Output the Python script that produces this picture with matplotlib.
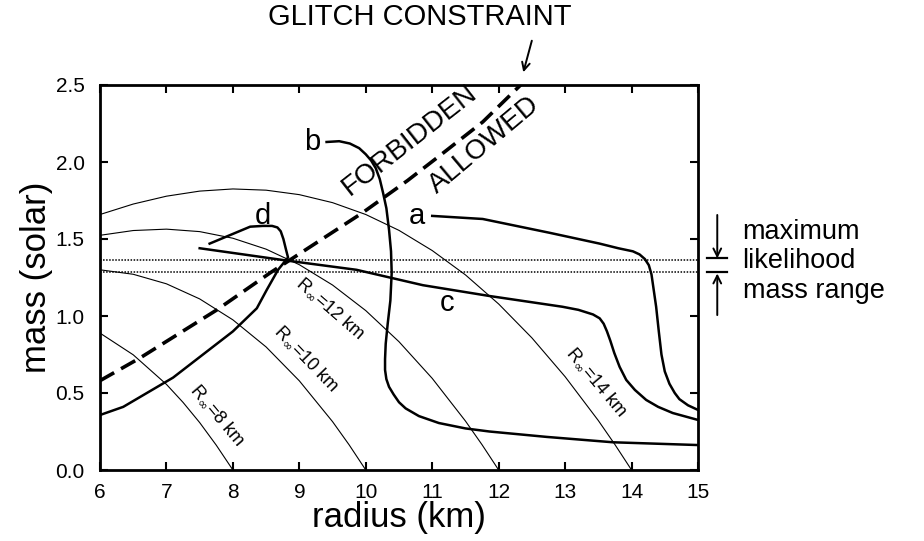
import numpy as np
import matplotlib
matplotlib.use("Agg")
import matplotlib.pyplot as plt

plt.rcParams['font.family'] = ['Liberation Sans', 'DejaVu Sans']

# thin curves of constant R_inf (radius, mass)
rinf8_r = [6.0, 6.5, 7.0, 7.25, 7.5, 7.75, 8.0]
rinf8_m = [0.889, 0.748, 0.556, 0.439, 0.308, 0.161, 0.0]
rinf10_r = [6.0, 6.5, 7.0, 7.5, 8.0, 8.5, 9.0, 9.5, 9.75, 10.0]
rinf10_m = [1.300, 1.271, 1.209, 1.111, 0.975, 0.799, 0.579, 0.314, 0.163, 0.0]
rinf12_r = [6.0, 6.5, 7.0, 7.5, 8.0, 8.5, 9.0, 9.5, 10.0, 10.5, 11.0, 11.5, 11.75, 12.0]
rinf12_m = [1.524, 1.555, 1.564, 1.548, 1.505, 1.434, 1.333, 1.201, 1.035, 0.833,
            0.595, 0.318, 0.164, 0.0]
rinf14_r = [6.0, 6.5, 7.0, 7.5, 8.0, 8.5, 9.0, 9.5, 10.0, 10.5, 11.0, 11.5, 12.0,
            12.5, 13.0, 13.5, 13.75, 14.0]
rinf14_m = [1.659, 1.727, 1.778, 1.811, 1.825, 1.817, 1.788, 1.736, 1.659, 1.556,
            1.425, 1.267, 1.078, 0.858, 0.606, 0.321, 0.165, 0.0]

# equation of state curves
a_r = [11.0, 11.76, 12.77, 13.52, 13.8, 14.02, 14.12, 14.2, 14.26, 14.3, 14.33, 14.37,
       14.41, 14.45, 14.5, 14.57, 14.65, 14.72, 14.85, 15.0]
a_m = [1.65, 1.63, 1.54, 1.47, 1.44, 1.42, 1.40, 1.37, 1.33, 1.27, 1.18, 1.06,
       0.90, 0.75, 0.64, 0.56, 0.50, 0.46, 0.42, 0.39]
b_r = [9.41, 9.6, 9.76, 9.9, 10.0, 10.08, 10.15, 10.21, 10.26, 10.31, 10.35, 10.38,
       10.39, 10.37, 10.33, 10.30, 10.29, 10.29, 10.31, 10.35, 10.42, 10.5, 10.6, 10.8,
       11.1, 11.5, 11.86, 12.72, 13.72, 15.0]
b_m = [2.13, 2.135, 2.12, 2.09, 2.05, 2.01, 1.96, 1.89, 1.80, 1.70, 1.56, 1.42,
       1.28, 1.10, 0.95, 0.82, 0.72, 0.65, 0.59, 0.54, 0.49, 0.44, 0.40, 0.35,
       0.305, 0.27, 0.25, 0.215, 0.18, 0.162]
c_r = [7.5, 8.81, 9.86, 10.86, 11.86, 12.96, 13.2, 13.42, 13.52, 13.58, 13.63, 13.68,
       13.74, 13.82, 13.92, 14.05, 14.22, 14.4, 14.62, 15.0]
c_m = [1.44, 1.36, 1.30, 1.20, 1.13, 1.06, 1.04, 1.01, 0.985, 0.95, 0.90, 0.84,
       0.76, 0.67, 0.585, 0.52, 0.455, 0.41, 0.37, 0.325]
d_r = [6.0, 6.35, 7.1, 8.0, 8.36, 8.51, 8.68, 8.83, 8.80, 8.76, 8.72, 8.67, 8.59,
       8.45, 8.26, 7.65]
d_m = [0.357, 0.41, 0.60, 0.90, 1.05, 1.17, 1.30, 1.38, 1.43, 1.50, 1.55, 1.575,
       1.585, 1.585, 1.58, 1.47]

# glitch constraint
glitch_r = [6.0, 6.6, 7.76, 8.56, 8.86, 9.95, 10.63, 11.11, 11.76, 12.33]
glitch_m = [0.58, 0.727, 1.04, 1.28, 1.364, 1.67, 1.88, 2.04, 2.26, 2.5]

# maximum likelihood mass range
mass_lo, mass_hi = 1.286, 1.364

fig = plt.figure(figsize=(9.24, 5.41), dpi=100)
ax = fig.add_axes([100 / 924, 71 / 541, 598 / 924, 385 / 541])

thin = dict(color='black', lw=0.8)
thick = dict(color='black', lw=1.8, solid_joinstyle='round')
for r, m in [(rinf8_r, rinf8_m), (rinf10_r, rinf10_m), (rinf12_r, rinf12_m), (rinf14_r, rinf14_m)]:
    ax.plot(r, m, **thin)
for r, m in [(a_r, a_m), (b_r, b_m), (c_r, c_m), (d_r, d_m)]:
    ax.plot(r, m, **thick)
ax.plot(glitch_r, glitch_m, color='black', lw=2.6, dashes=(4.5, 2.2))
ax.axhline(mass_lo, color='black', lw=1.1, ls=(0, (1, 1)))
ax.axhline(mass_hi, color='black', lw=1.1, ls=(0, (1, 1)))

# curve labels
for txt, x, y in [('a', 10.77, 1.60), ('b', 9.19, 2.08), ('c', 11.22, 1.03), ('d', 8.45, 1.60)]:
    ax.text(x, y, txt, fontsize=21, ha='center', va='baseline')

ax.text(10.66, 2.14, 'FORBIDDEN', fontsize=20, rotation=38, ha='center', va='center',
        rotation_mode='anchor', clip_on=False)
ax.text(11.79, 2.11, 'ALLOWED', fontsize=20, rotation=40, ha='center', va='center',
        rotation_mode='anchor')

for txt, x, y, rot in [('8', 7.77, 0.357, -50), ('10', 9.11, 0.727, -46),
                       ('12', 9.47, 1.05, -41), ('14', 13.47, 0.57, -50)]:
    ax.text(x, y, r'R$_\infty$=' + txt + ' km', fontsize=13, rotation=rot,
            ha='center', va='center', rotation_mode='anchor')

# glitch constraint annotation
ax.text(10.81, 2.89, 'GLITCH CONSTRAINT', fontsize=21, ha='center', va='baseline', clip_on=False)
ax.annotate('', xy=(12.36, 2.565), xytext=(12.51, 2.805), xycoords='data',
            arrowprops=dict(arrowstyle='->', color='black', lw=1.4,
                            mutation_scale=14), annotation_clip=False)

# mass range marker right of the plot
ax.annotate('', xy=(15.29, mass_hi + 0.01), xytext=(15.29, 1.656),
            arrowprops=dict(arrowstyle='->', color='black', lw=1.4, mutation_scale=14,
                            shrinkA=0, shrinkB=0), annotation_clip=False)
ax.annotate('', xy=(15.29, mass_lo - 0.01), xytext=(15.29, 1.006),
            arrowprops=dict(arrowstyle='->', color='black', lw=1.4, mutation_scale=14,
                            shrinkA=0, shrinkB=0), annotation_clip=False)
ax.plot([15.13, 15.44], [mass_hi + 0.01, mass_hi + 0.01], color='black', lw=1.6, clip_on=False)
ax.plot([15.13, 15.44], [mass_lo, mass_lo], color='black', lw=1.6, clip_on=False)
ax.text(15.67, 1.50, 'maximum', fontsize=19.5, va='baseline', clip_on=False)
ax.text(15.67, 1.31, 'likelihood', fontsize=19.5, va='baseline', clip_on=False)
ax.text(15.67, 1.12, 'mass range', fontsize=19.5, va='baseline', clip_on=False)

ax.set_xlim(6, 15)
ax.set_ylim(0, 2.5)
ax.set_xticks(np.arange(6, 16, 1))
ax.set_yticks(np.arange(0, 2.51, 0.5))
ax.set_yticklabels(['%.1f' % v for v in np.arange(0, 2.51, 0.5)])
ax.tick_params(direction='in', length=6, width=1.5, top=True, right=True, labelsize=15)
ax.tick_params(axis='x', pad=9)
ax.tick_params(axis='y', pad=11)
for s in ax.spines.values():
    s.set_linewidth(2)

ax.set_xlabel('radius (km)', fontsize=25, labelpad=0)
ax.set_ylabel('mass (solar)', fontsize=25, labelpad=2)

fig.savefig('out.png', dpi=100)
